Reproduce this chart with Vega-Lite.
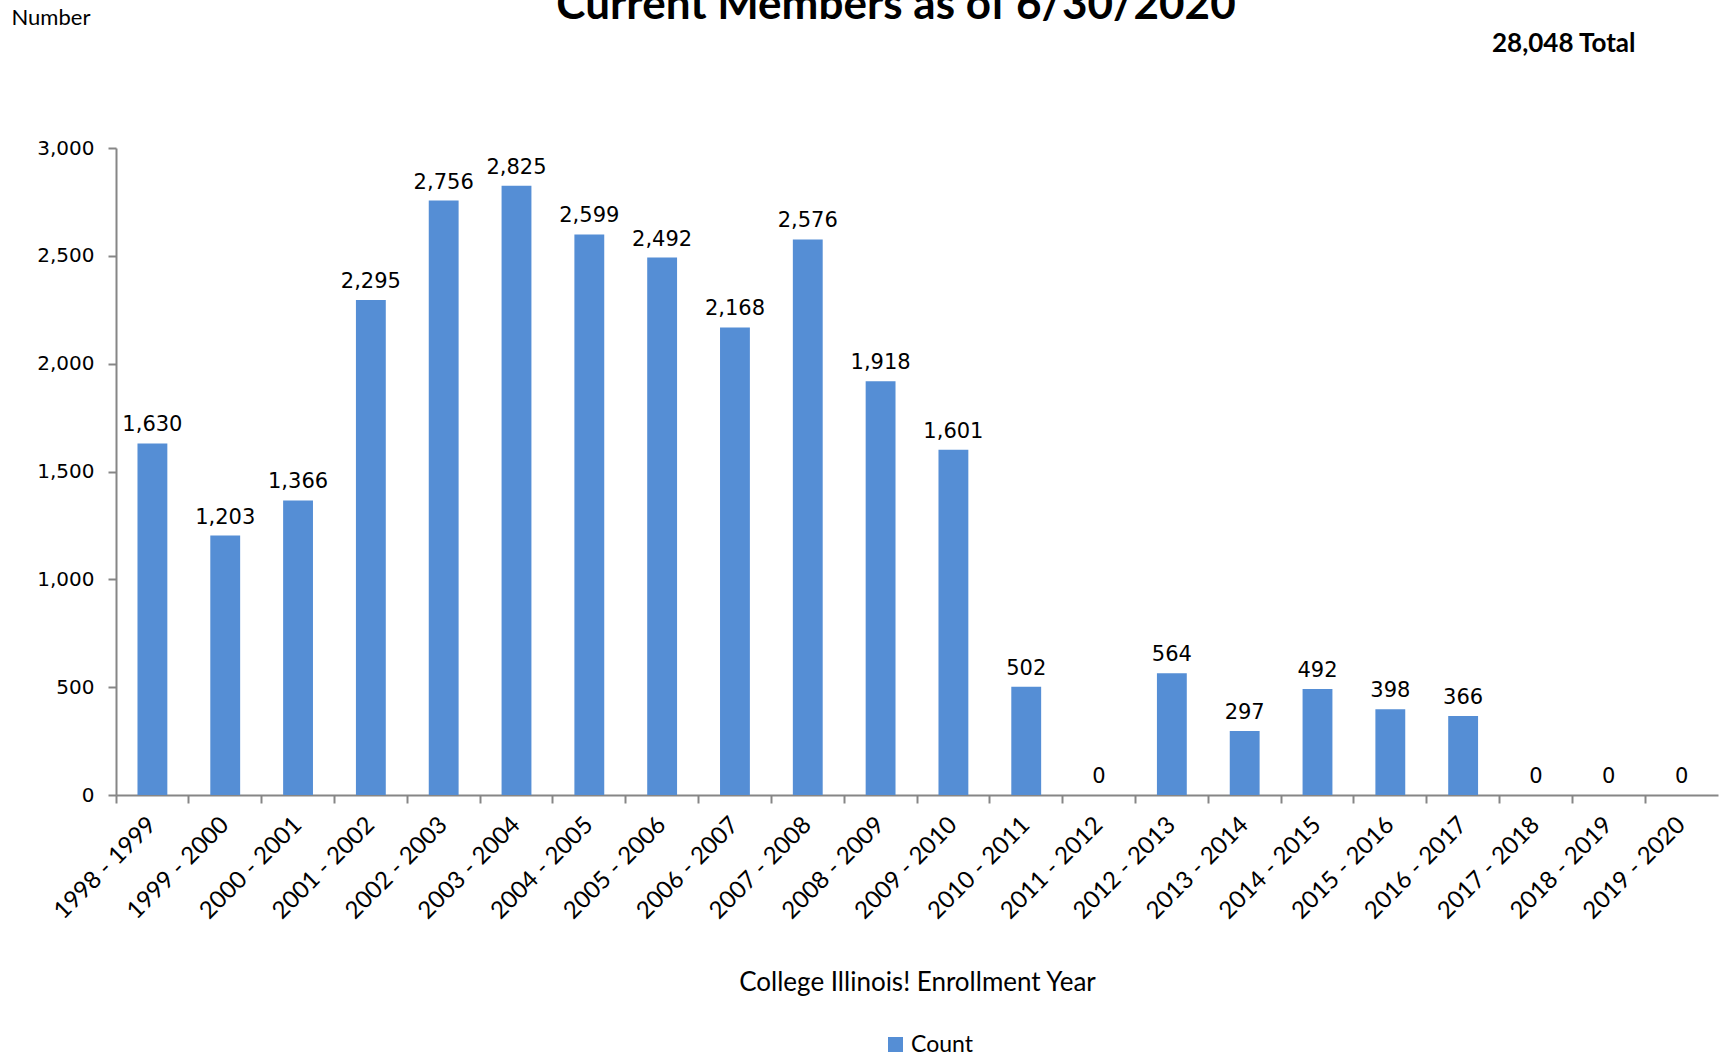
{
  "$schema": "https://vega.github.io/schema/vega-lite/v6.json",
  "width": 1602,
  "height": 647,
  "autosize": {"type": "none"},
  "padding": {"left": 116, "top": 148, "right": 2, "bottom": 261},
  "background": "white",
  "config": {"view": {"stroke": null}, "font": "Lato"},
  "title": {
    "text": "Current Members as of 6/30/2020",
    "frame": "group",
    "anchor": "middle",
    "offset": -57,
    "baseline": "alphabetic",
    "fontSize": 44,
    "fontWeight": "bold",
    "font": "Lato",
    "color": "black",
    "dx": -21
  },
  "datasets": {
    "members": [
      {"year": "1998 - 1999", "count": 1630},
      {"year": "1999 - 2000", "count": 1203},
      {"year": "2000 - 2001", "count": 1366},
      {"year": "2001 - 2002", "count": 2295},
      {"year": "2002 - 2003", "count": 2756},
      {"year": "2003 - 2004", "count": 2825},
      {"year": "2004 - 2005", "count": 2599},
      {"year": "2005 - 2006", "count": 2492},
      {"year": "2006 - 2007", "count": 2168},
      {"year": "2007 - 2008", "count": 2576},
      {"year": "2008 - 2009", "count": 1918},
      {"year": "2009 - 2010", "count": 1601},
      {"year": "2010 - 2011", "count": 502},
      {"year": "2011 - 2012", "count": 0},
      {"year": "2012 - 2013", "count": 564},
      {"year": "2013 - 2014", "count": 297},
      {"year": "2014 - 2015", "count": 492},
      {"year": "2015 - 2016", "count": 398},
      {"year": "2016 - 2017", "count": 366},
      {"year": "2017 - 2018", "count": 0},
      {"year": "2018 - 2019", "count": 0},
      {"year": "2019 - 2020", "count": 0}
    ],
    "total": [{"label": "28,048 Total"}]
  },
  "encoding": {
    "x": {
      "field": "year",
      "type": "nominal",
      "sort": null,
      "scale": {"paddingInner": 0, "paddingOuter": 0},
      "axis": {
        "title": "College Illinois! Enrollment Year",
        "titleFont": "Lato",
        "titleFontSize": 26,
        "titleFontWeight": "normal",
        "titleColor": "black",
        "titleY": 187,
        "titleBaseline": "middle",
        "bandPosition": 0,
        "labelAngle": -45,
        "labelAlign": "right",
        "labelBaseline": "middle",
        "labelPadding": 18,
        "labelFont": "Lato",
        "labelFontSize": 24,
        "labelColor": "black",
        "labelOverlap": false,
        "labelBound": false,
        "tickSize": 8,
        "tickWidth": 2,
        "tickColor": "#868686",
        "domainColor": "#868686",
        "domainWidth": 2
      }
    }
  },
  "layer": [
    {
      "data": {"name": "members"},
      "mark": {"type": "bar", "width": {"band": 0.41}},
      "encoding": {
        "y": {
          "field": "count",
          "type": "quantitative",
          "scale": {"domain": [0, 3000], "nice": false},
          "axis": {
            "title": "Number",
            "titleAngle": 0,
            "titleX": -105,
            "titleY": -131,
            "titleAlign": "left",
            "titleBaseline": "middle",
            "titleFont": "Lato",
            "titleFontSize": 22,
            "titleFontWeight": "normal",
            "titleColor": "black",
            "values": [0, 500, 1000, 1500, 2000, 2500, 3000],
            "format": ",.0f",
            "labelFont": "DejaVu Sans",
            "labelFontSize": 20,
            "labelColor": "black",
            "labelPadding": 14,
            "tickSize": 8,
            "tickWidth": 2,
            "tickColor": "#868686",
            "domainColor": "#868686",
            "domainWidth": 2,
            "grid": false
          }
        },
        "color": {
          "datum": "Count",
          "scale": {"range": ["#558ED5"]},
          "legend": {
            "orient": "none",
            "legendX": 768,
            "legendY": 885,
            "title": null,
            "direction": "horizontal",
            "labelFont": "Lato",
            "labelFontSize": 23,
            "labelColor": "black",
            "symbolType": "square",
            "symbolSize": 225,
            "symbolStrokeWidth": 0
          }
        }
      }
    },
    {
      "data": {"name": "members"},
      "mark": {"type": "text", "font": "DejaVu Sans", "fontSize": 21, "color": "black", "baseline": "bottom", "dy": -8},
      "encoding": {
        "y": {"field": "count", "type": "quantitative"},
        "text": {"field": "count", "type": "quantitative", "format": ",.0f"}
      }
    },
    {
      "data": {"name": "total"},
      "mark": {"type": "text", "font": "Lato", "fontSize": 26, "fontWeight": "bold", "color": "black", "baseline": "middle", "align": "center", "dx": -45},
      "encoding": {
        "x": {"datum": "2018 - 2019", "type": "nominal"},
        "y": {"datum": 3482, "type": "quantitative"},
        "text": {"field": "label", "type": "nominal"}
      }
    }
  ]
}
